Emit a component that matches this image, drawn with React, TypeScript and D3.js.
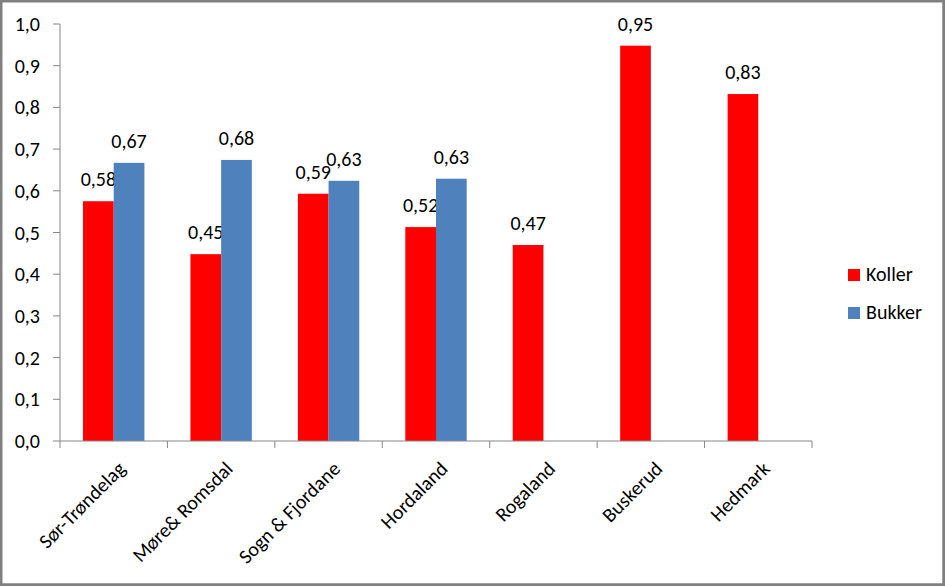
import React from 'react';
import * as d3 from 'd3';

const categories = ['Sør-Trøndelag', 'Møre& Romsdal', 'Sogn & Fjordane', 'Hordaland', 'Rogaland', 'Buskerud', 'Hedmark'];
const koller = [0.575, 0.448, 0.593, 0.513, 0.47, 0.948, 0.832];
const bukker: (number | null)[] = [0.667, 0.674, 0.624, 0.629, null, null, null];
const kollerLabels = ['0,58', '0,45', '0,59', '0,52', '0,47', '0,95', '0,83'];
const bukkerLabels = ['0,67', '0,68', '0,63', '0,63', '', '', ''];
const yTicks = [0, 0.1, 0.2, 0.3, 0.4, 0.5, 0.6, 0.7, 0.8, 0.9, 1.0];
const seriesNames = ['Koller', 'Bukker'];
const colors = ['#FF0000', '#4F81BD'];

const W = 945;
const H = 586;
const left = 60;
const right = 812;
const top = 24;
const bottom = 441;
const font = "Calibri, Carlito, 'Open Sans', sans-serif";
const fs = 20;

const App = () => {
  const x = d3.scaleBand<string>().domain(categories).range([left, right]).paddingInner(0).paddingOuter(0);
  const inner = d3.scaleBand<string>().domain(seriesNames).range([0, x.bandwidth()]).paddingInner(0).paddingOuter(0.75);
  const y = d3.scaleLinear().domain([0, 1]).range([bottom, top]);
  const fmt = (v: number) => d3.format('.1f')(v).replace('.', ',');
  const series = [koller, bukker];
  const labels = [kollerLabels, bukkerLabels];

  return (
    <svg width={W} height={H} style={{ display: 'block', position: 'absolute', left: 0, top: 0 }}>
      <rect x={0} y={0} width={W} height={H} fill="#fff" />
      <rect x={1.25} y={1.25} width={W - 2.75} height={H - 2.75} fill="none" stroke="#808080" strokeWidth={2.5} />
      <line x1={W - 1} x2={W - 1} y1={0} y2={H} stroke="#808080" strokeWidth={2} />
      <line x1={0} x2={W} y1={H - 1} y2={H - 1} stroke="#808080" strokeWidth={2} />

      {series.map((vals, si) =>
        vals.map((v, i) =>
          v == null ? null : (
            <g key={`${si}-${i}`}>
              <rect
                x={(x(categories[i]) as number) + (inner(seriesNames[si]) as number)}
                y={y(v)}
                width={inner.bandwidth()}
                height={bottom - y(v)}
                fill={colors[si]}
              />
              <text
                x={(x(categories[i]) as number) + (inner(seriesNames[si]) as number) + inner.bandwidth() / 2}
                y={y(v) - 15}
                textAnchor="middle"
                fontSize={fs}
                fontFamily={font}
                fill="#000"
              >
                {labels[si][i]}
              </text>
            </g>
          )
        )
      )}

      {/* y axis */}
      <line x1={left} x2={left} y1={top} y2={bottom} stroke="#868686" />
      {yTicks.map((t) => (
        <g key={t}>
          <line x1={left - 7} x2={left} y1={y(t)} y2={y(t)} stroke="#868686" />
          <text x={left - 20} y={y(t) + 7} textAnchor="end" fontSize={fs} fontFamily={font} fill="#000">
            {fmt(t)}
          </text>
        </g>
      ))}

      {/* x axis */}
      <line x1={left} x2={right} y1={bottom} y2={bottom} stroke="#868686" />
      {categories.map((c) => (
        <line key={c} x1={x(c) as number} x2={x(c) as number} y1={bottom} y2={bottom + 7} stroke="#868686" />
      ))}
      <line x1={right} x2={right} y1={bottom} y2={bottom + 7} stroke="#868686" />
      {categories.map((c) => {
        const cx = (x(c) as number) + x.bandwidth() / 2 + 8;
        const cy = bottom + 24;
        return (
          <text
            key={c}
            transform={`translate(${cx},${cy}) rotate(-45)`}
            textAnchor="end"
            dy="0.35em"
            fontSize={fs}
            fontFamily={font}
            fill="#000"
          >
            {c}
          </text>
        );
      })}

      {/* legend */}
      {seriesNames.map((s, i) => (
        <g key={s} transform={`translate(848,${269 + i * 38})`}>
          <rect x={0} y={0} width={12} height={12} fill={colors[i]} />
          <text x={18} y={12} fontSize={fs} fontFamily={font} fill="#000">
            {s}
          </text>
        </g>
      ))}
    </svg>
  );
};

export default App;
